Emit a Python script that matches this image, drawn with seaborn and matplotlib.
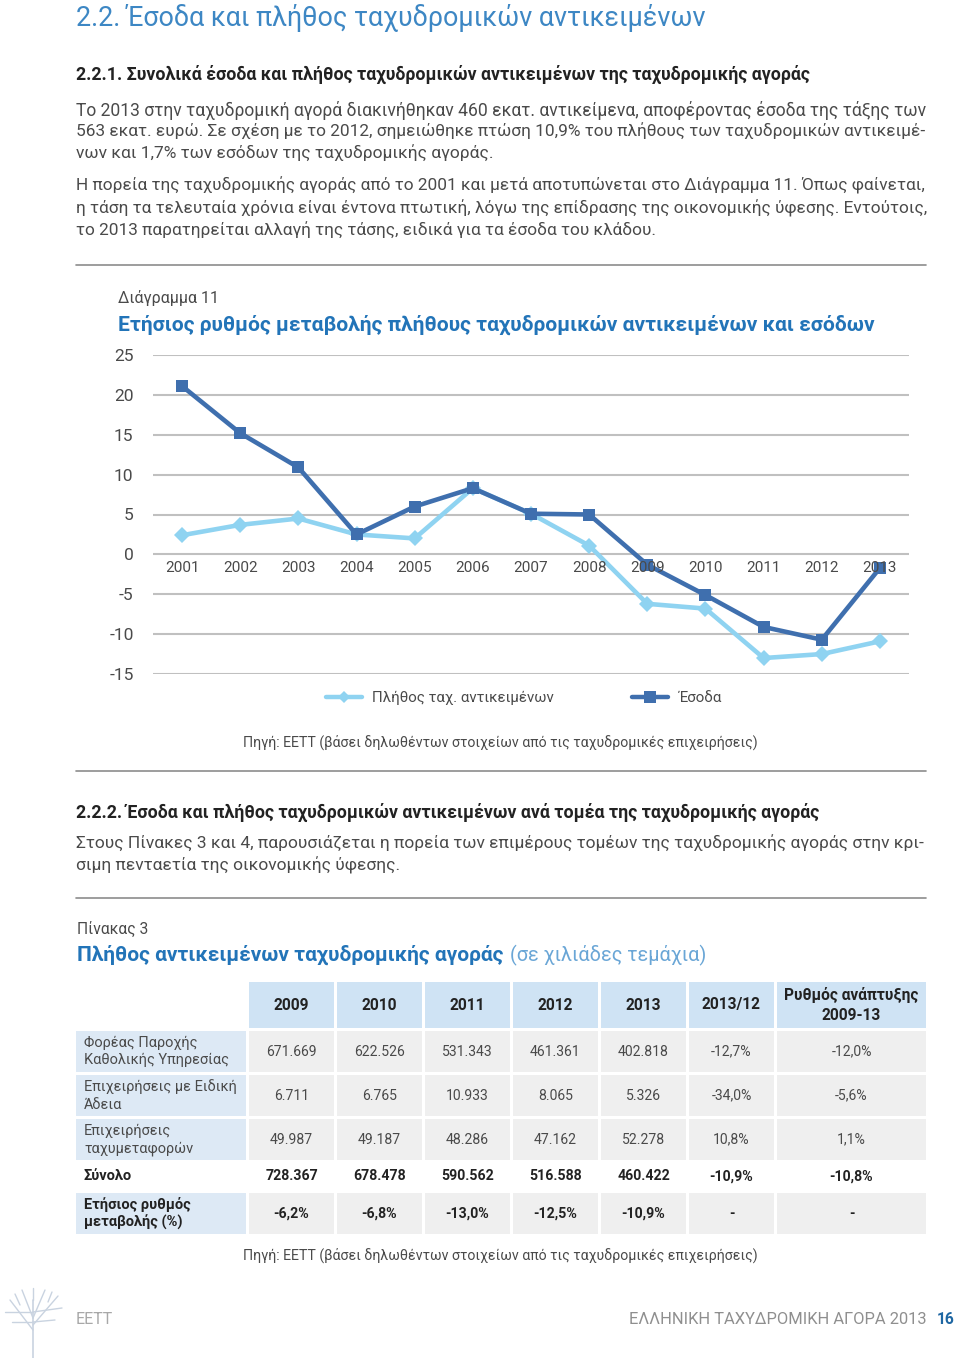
import matplotlib
matplotlib.use("Agg")
import matplotlib.pyplot as plt
from matplotlib import font_manager as fm
from matplotlib.patches import Rectangle
from matplotlib.lines import Line2D
import seaborn as sns
import pandas as pd

# ---------------- data ----------------
years = ["2001", "2002", "2003", "2004", "2005", "2006", "2007",
         "2008", "2009", "2010", "2011", "2012", "2013"]
items_growth = [2.4, 3.7, 4.5, 2.5, 2.0, 8.3, 5.1, 1.1, -6.2, -6.8, -13.0, -12.5, -10.9]
revenue_growth = [21.1, 15.2, 10.9, 2.5, 6.0, 8.3, 5.1, 5.0, -1.3, -5.1, -9.1, -10.7, -1.7]
series_names = ["Πλήθος ταχ. αντικειμένων", "Έσοδα"]
y_ticks = [-15, -10, -5, 0, 5, 10, 15, 20, 25]

table_cols = ["2009", "2010", "2011", "2012", "2013", "2013/12", "Ρυθμός ανάπτυξης\n2009-13"]
row_labels = ["Φορέας Παροχής\nΚαθολικής Υπηρεσίας", "Επιχειρήσεις με Ειδική\nΆδεια",
              "Επιχειρήσεις\nταχυμεταφορών", "Σύνολο", "Ετήσιος ρυθμός\nμεταβολής (%)"]
row_usp = ["671.669", "622.526", "531.343", "461.361", "402.818", "-12,7%", "-12,0%"]
row_special = ["6.711", "6.765", "10.933", "8.065", "5.326", "-34,0%", "-5,6%"]
row_courier = ["49.987", "49.187", "48.286", "47.162", "52.278", "10,8%", "1,1%"]
row_total = ["728.367", "678.478", "590.562", "516.588", "460.422", "-10,9%", "-10,8%"]
row_annual = ["-6,2%", "-6,8%", "-13,0%", "-12,5%", "-10,9%", "-", "-"]

# ---------------- style ----------------
sns.set_style("white")
names = {f.name for f in fm.fontManager.ttflist}
BODY = "Liberation Sans Narrow" if "Liberation Sans Narrow" in names else "Roboto"
plt.rcParams["font.family"] = [BODY, "DejaVu Sans"]

TXT = "#4a4a4a"
DARK = "#222222"
BLUE_T = "#3d87c4"
BLUE_H = "#2274b8"
C_ITEMS = "#8fd3f1"
C_REV = "#3f6fae"
GRID = "#c0c0c0"
RULE = "#8c8c8c"

fig = plt.figure(figsize=(9.6, 13.58), dpi=100)
page = fig.add_axes([0, 0, 1, 1])
page.set_xlim(0, 960)
page.set_ylim(1358, 0)
page.axis("off")
R = fig.canvas.get_renderer()


def measure(s, size, weight="normal"):
    t = page.text(0, 0, s, fontsize=size, fontweight=weight, linespacing=1.15)
    w = t.get_window_extent(renderer=R).width
    t.remove()
    return w


def fit(s, w, weight="normal", size=12):
    return size * w / measure(s, size, weight)


def put(x, y, s, size=12, w=None, color=TXT, weight="normal", ha="left", va="center", ls=1.15):
    if w:
        size = fit(s, w, weight, size)
    return page.text(x, y, s, fontsize=size, color=color, fontweight=weight,
                     ha=ha, va=va, linespacing=ls)


def rule(y):
    page.plot([76, 926], [y, y], color=RULE, lw=1.2)


# ---------------- page text ----------------
put(76, 18, "2.2. Έσοδα και πλήθος ταχυδρομικών αντικειμένων", w=628, color=BLUE_T)
put(76, 74, "2.2.1. Συνολικά έσοδα και πλήθος ταχυδρομικών αντικειμένων της ταχυδρομικής αγοράς",
    w=729, color=DARK, weight="bold")
para1 = [("Το 2013 στην ταχυδρομική αγορά διακινήθηκαν 460 εκατ. αντικείμενα, αποφέροντας έσοδα της τάξης των", 848, 110),
         ("563 εκατ. ευρώ. Σε σχέση με το 2012, σημειώθηκε πτώση 10,9% του πλήθους των ταχυδρομικών αντικειμέ-", 848, 131),
         ("νων και 1,7% των εσόδων της ταχυδρομικής αγοράς.", 415, 153),
         ("Η πορεία της ταχυδρομικής αγοράς από το 2001 και μετά αποτυπώνεται στο Διάγραμμα 11. Όπως φαίνεται,", 848, 185),
         ("η τάση τα τελευταία χρόνια είναι έντονα πτωτική, λόγω της επίδρασης της οικονομικής ύφεσης. Εντούτοις,", 848, 208),
         ("το 2013 παρατηρείται αλλαγή της τάσης, ειδικά για τα έσοδα του κλάδου.", 576, 230)]
for s, w, y in para1:
    put(76, y, s, w=w)
rule(265)
put(118, 298, "Διάγραμμα 11", w=100)
put(118, 325, "Ετήσιος ρυθμός μεταβολής πλήθους ταχυδρομικών αντικειμένων και εσόδων",
    w=752, color=BLUE_H, weight="bold")
src = "Πηγή: ΕΕΤΤ (βάσει δηλωθέντων στοιχείων από τις ταχυδρομικές επιχειρήσεις)"
put(500, 742, src, w=510, ha="center")
rule(771)
put(76, 812, "2.2.2. Έσοδα και πλήθος ταχυδρομικών αντικειμένων ανά τομέα της ταχυδρομικής αγοράς",
    w=739, color=DARK, weight="bold")
put(76, 843, "Στους Πίνακες 3 και 4, παρουσιάζεται η πορεία των επιμέρους τομέων της ταχυδρομικής αγοράς στην κρι-", w=848)
put(76, 865, "σιμη πενταετία της οικονομικής ύφεσης.", w=322)
rule(898)
put(77, 929, "Πίνακας 3", w=71)
t_head = "Πλήθος αντικειμένων ταχυδρομικής αγοράς"
hs = fit(t_head, 425, "bold")
put(77, 955, t_head, size=hs, color=BLUE_H, weight="bold")
put(510, 955, "(σε χιλιάδες τεμάχια)", w=196, color="#6aa6d6")
put(500, 1255, src, w=510, ha="center")

# footer
put(76, 1319, "ΕΕΤΤ", w=37, color="#a8a8a8")
put(927, 1319, "ΕΛΛΗΝΙΚΗ ΤΑΧΥΔΡΟΜΙΚΗ ΑΓΟΡΑ 2013", w=297, color="#8f8f8f", ha="right")
put(937, 1319, "16", w=18, color="#1f67a3", weight="bold")
# small tree logo
LOGO = "#c9d3e0"
page.plot([33, 33], [1358, 1300], color=LOGO, lw=1.2)
for (x0, y0, x1, y1) in [(33, 1330, 10, 1300), (33, 1325, 58, 1296), (33, 1318, 22, 1290),
                         (33, 1318, 45, 1290), (33, 1312, 5, 1312), (33, 1312, 62, 1308),
                         (33, 1322, 12, 1322), (33, 1322, 55, 1320), (20, 1305, 15, 1294),
                         (48, 1302, 52, 1292), (33, 1300, 33, 1288)]:
    page.plot([x0, x1], [y0, y1], color=LOGO, lw=1)

# ---------------- chart ----------------
df = pd.DataFrame({
    "x": list(range(len(years))) * 2,
    "value": items_growth + revenue_growth,
    "series": [series_names[0]] * len(years) + [series_names[1]] * len(years),
})
ax = fig.add_axes([153 / 960, 1 - 674 / 1358, (909 - 153) / 960, (674 - 355) / 1358])
ax.patch.set_alpha(0)
sns.lineplot(data=df, x="x", y="value", hue="series", style="series",
             palette={series_names[0]: C_ITEMS, series_names[1]: C_REV},
             markers={series_names[0]: "D", series_names[1]: "s"},
             dashes=False, linewidth=3.3, markersize=8.5, markeredgewidth=0,
             ax=ax, legend=False, zorder=3)
ax.set_xlim(-0.5, len(years) - 0.5)
ax.set_ylim(-15, 25)
ax.set_yticks(y_ticks)
ax.set_yticklabels([str(v) for v in y_ticks], color=TXT, fontsize=12.5)
ax.tick_params(axis="y", length=0, pad=14)
ax.set_xticks([])
ax.set_xlabel("")
ax.set_ylabel("")
ax.grid(axis="y", color=GRID, lw=1.5)
ax.set_axisbelow(True)
for sp in ax.spines.values():
    sp.set_visible(False)
for i, yr in enumerate(years):
    ax.annotate(yr, xy=(i, 0), xytext=(0, -10), textcoords="offset points",
                ha="center", va="center", fontsize=11, color=TXT, zorder=4)

handles = [Line2D([], [], color=C_ITEMS, lw=3.2, marker="D", markersize=6, markeredgewidth=0),
           Line2D([], [], color=C_REV, lw=3.2, marker="s", markersize=8, markeredgewidth=0)]
fig.legend(handles, series_names, loc="center", bbox_to_anchor=(524 / 960, 1 - 698 / 1358),
           ncol=2, frameon=False, fontsize=10.8, handlelength=2.4, handletextpad=0.7,
           columnspacing=5.2, labelcolor=TXT)

# ---------------- table ----------------
col_x = [249, 337, 425, 513, 601, 689, 777]
col_w = [85, 85, 85, 85, 85, 85, 149]
row_y = [1031, 1075, 1119, 1163, 1193]
row_h = [41, 41, 41, 27, 41]
HEAD_BG = "#cfe3f4"
LAB_BG = "#dde9f5"
CELL_BG = "#efefef"

ns = fit("671.669", 51, "normal")
bs = fit("728.367", 53, "bold")
hb = fit("Ρυθμός ανάπτυξης", 134, "bold")
ls = fit("Επιχειρήσεις με Ειδική", 152, "normal")
lbs = fit("Ετήσιος ρυθμός", 106, "bold")

for x, w, lab in zip(col_x, col_w, table_cols):
    page.add_patch(Rectangle((x, 982), w, 46, color=HEAD_BG, lw=0))
    put(x + w / 2, 1005, lab, size=hb, color=DARK, weight="bold", ha="center", ls=1.4)

rows = [row_usp, row_special, row_courier, row_total, row_annual]
for r, (lab, vals) in enumerate(zip(row_labels, rows)):
    y0, h = row_y[r], row_h[r]
    bold = r >= 3
    if r != 3:
        page.add_patch(Rectangle((76, y0), 170, h, color=LAB_BG, lw=0))
        for x, w in zip(col_x, col_w):
            page.add_patch(Rectangle((x, y0), w, h, color=CELL_BG, lw=0))
    put(84, y0 + h / 2, lab, size=lbs if bold else ls,
        color=DARK if bold else TXT, weight="bold" if bold else "normal", ls=1.3)
    for x, w, v in zip(col_x, col_w, vals):
        put(x + w / 2, y0 + h / 2, v, size=bs if bold else ns,
            color=DARK if bold else TXT, weight="bold" if bold else "normal", ha="center")

fig.savefig("out.png", dpi=100)
